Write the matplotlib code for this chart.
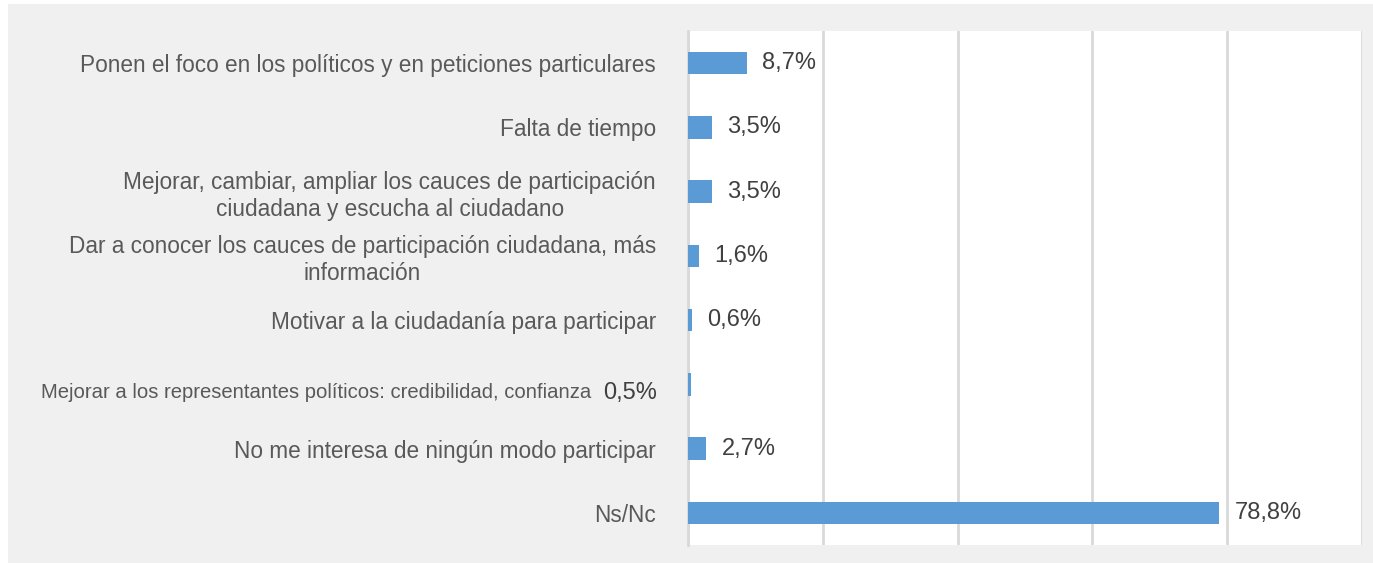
import matplotlib
matplotlib.use("Agg")
import matplotlib.pyplot as plt
from matplotlib.patches import Rectangle

plt.rcParams["font.family"] = ["Liberation Sans", "DejaVu Sans"]

categories = [
    "Ponen el foco en los políticos y en peticiones particulares",
    "Falta de tiempo",
    "Mejorar, cambiar, ampliar los cauces de participación\nciudadana y escucha al ciudadano",
    "Dar a conocer los cauces de participación ciudadana, más\ninformación",
    "Motivar a la ciudadanía para participar",
    "Mejorar a los representantes políticos: credibilidad, confianza",
    "No me interesa de ningún modo participar",
    "Ns/Nc",
]
values = [8.7, 3.5, 3.5, 1.6, 0.6, 0.5, 2.7, 78.8]
value_labels = ["8,7%", "3,5%", "3,5%", "1,6%", "0,6%", "0,5%", "2,7%", "78,8%"]
xticks = [0, 20, 40, 60, 80, 100]
SMALL = 5  # this row's label and value sit left of the axis in the original

fig = plt.figure(figsize=(13.73, 5.63), dpi=100, facecolor="white")
fig.patches.append(Rectangle((8 / 1373, 0), 1 - 8 / 1373, 1 - 4 / 563,
                             transform=fig.transFigure, facecolor="#f0f0f0",
                             edgecolor="none", zorder=-10))

ax = fig.add_axes([688 / 1373, 1 - 545 / 563, 674 / 1373, 514 / 563])
ax.set_facecolor("white")

y = list(range(len(categories)))
ax.barh(y, values, height=0.35, color="#5b9bd5", zorder=3)
ax.set_ylim(len(categories) - 0.5, -0.5)
ax.set_xlim(0, 100)

ax.set_xticks(xticks)
ax.set_xticklabels([])
ax.tick_params(axis="x", length=0)
ax.grid(axis="x", color="#d9d9d9", lw=2, zorder=0)
ax.set_axisbelow(True)

ax.set_yticks(y)
ax.set_yticklabels([c if i != SMALL else "" for i, c in enumerate(categories)],
                   fontsize=16.3, color="#595959", multialignment="center")
ax.tick_params(axis="y", length=0, pad=23)

for s in ["top", "right", "bottom"]:
    ax.spines[s].set_visible(False)
ax.spines["left"].set_color("#d9d9d9")
ax.spines["left"].set_linewidth(2)

ax.annotate(categories[SMALL], (0, SMALL), xytext=(-70, -6),
            textcoords="offset points", ha="right", va="center",
            fontsize=14.6, color="#595959", annotation_clip=False)

for i, (v, lab) in enumerate(zip(values, value_labels)):
    if i == SMALL:
        ax.annotate(lab, (0, i), xytext=(-22, -6), textcoords="offset points",
                    ha="right", va="center", fontsize=17, color="#404040",
                    annotation_clip=False)
    else:
        ax.annotate(lab, (v, i), xytext=(11, 0), textcoords="offset points",
                    ha="left", va="center", fontsize=17, color="#404040")

fig.savefig("out.png", dpi=100, facecolor=fig.get_facecolor())
